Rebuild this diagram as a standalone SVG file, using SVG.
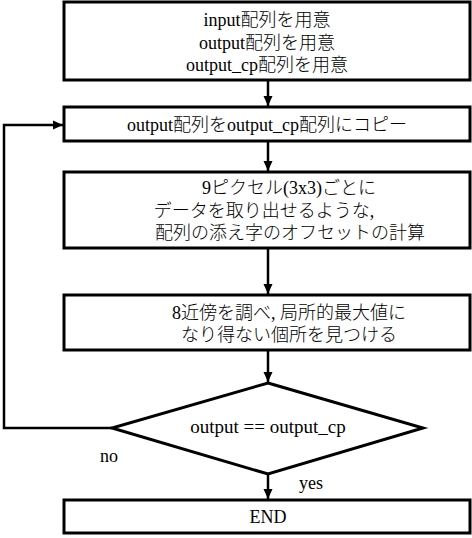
<svg xmlns="http://www.w3.org/2000/svg" width="472" height="538" viewBox="0 0 472 538">
<style>
.box{fill:#fff;stroke:#000;stroke-width:3}
.t{font-family:"Liberation Serif","Noto Sans CJK JP",serif;font-size:18px;font-weight:300;fill:#000;text-anchor:middle;dominant-baseline:central}
.c{fill:none;stroke:#000;stroke-width:2.5}
</style>
<defs>
<marker id="ah" markerUnits="userSpaceOnUse" markerWidth="10" markerHeight="10" viewBox="0 0 10 10" refX="10" refY="5" orient="auto">
<path d="M0,0.5 L10,5 L0,9.5 Z" fill="#000"/>
</marker>
</defs>
<rect width="472" height="538" fill="#fff"/>
<g id="connectors">
<line class="c" x1="268" y1="80" x2="268" y2="106" marker-end="url(#ah)"/>
<line class="c" x1="268" y1="141" x2="268" y2="171" marker-end="url(#ah)"/>
<line class="c" x1="268" y1="248" x2="268" y2="294" marker-end="url(#ah)"/>
<line class="c" x1="268" y1="350" x2="268" y2="382" marker-end="url(#ah)"/>
<line class="c" x1="268" y1="474" x2="268" y2="499" marker-end="url(#ah)"/>
<polyline class="c" points="112,428 4,428 4,125 63,125" marker-end="url(#ah)"/>
</g>
<g id="n1">
<rect class="box" x="64" y="2" width="406" height="78"/>
<text class="t" x="267" y="20">input配列を用意</text>
<text class="t" x="267" y="43">output配列を用意</text>
<text class="t" x="267" y="65">output_cp配列を用意</text>
</g>
<g id="n2">
<rect class="box" x="64" y="107" width="406" height="34"/>
<text class="t" x="267" y="125">output配列をoutput_cp配列にコピー</text>
</g>
<g id="n3">
<rect class="box" x="64" y="172" width="406" height="76"/>
<text class="t" x="289" y="188">9ピクセル(3x3)ごとに</text>
<text class="t" x="264" y="211">データを取り出せるような,</text>
<text class="t" x="290" y="233">配列の添え字のオフセットの計算</text>
</g>
<g id="n4">
<rect class="box" x="64" y="295" width="406" height="55"/>
<text class="t" x="289" y="313">8近傍を調べ, 局所的最大値に</text>
<text class="t" x="289" y="335">なり得ない個所を見つける</text>
</g>
<g id="n5">
<polygon class="box" points="268,383 423,428 268,474 112,428"/>
<text class="t" x="268" y="426" style="font-size:19px">output == output_cp</text>
</g>
<g id="labels">
<text class="t" x="109" y="456">no</text>
<text class="t" x="311" y="483">yes</text>
</g>
<g id="n6">
<rect class="box" x="64" y="500" width="406" height="33"/>
<text class="t" x="268" y="517">END</text>
</g>
</svg>
